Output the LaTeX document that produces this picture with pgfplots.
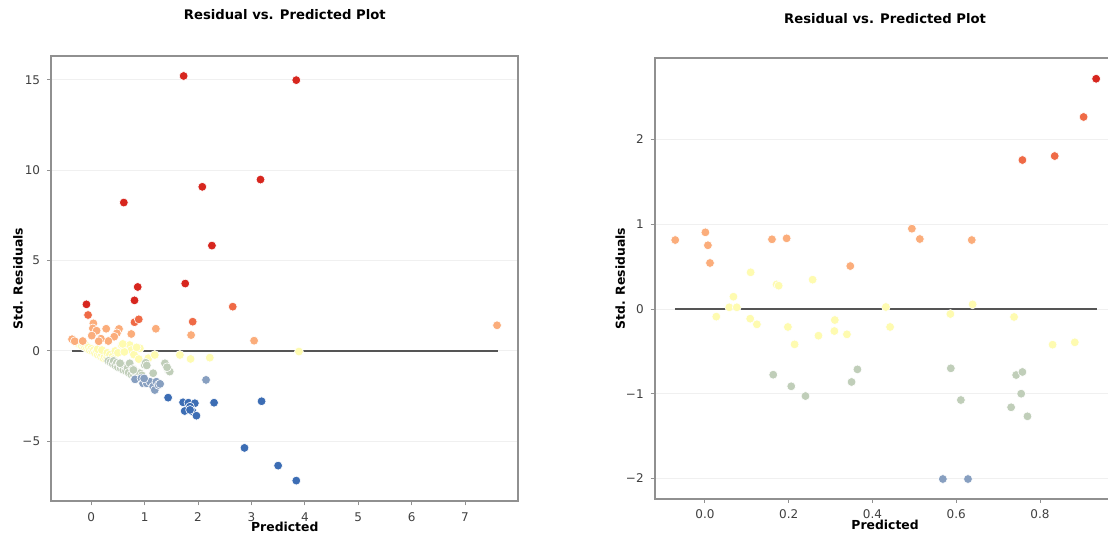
\documentclass[border=0pt]{standalone}
\usepackage{fontspec}
\setmainfont{DejaVu Sans}
\usepackage{pgfplots}
\pgfplotsset{compat=1.18}

\definecolor{rdark}{HTML}{D7261E}
\definecolor{rorange}{HTML}{EF6A46}
\definecolor{rlight}{HTML}{FBAD7B}
\definecolor{ryellow}{HTML}{FEFBB0}
\definecolor{rgreen}{HTML}{C0CEB9}
\definecolor{rsteel}{HTML}{879FC0}
\definecolor{rblue}{HTML}{3C6DB4}
\definecolor{spine}{HTML}{909090}
\definecolor{zeroline}{HTML}{555555}

\newcommand{\labfont}{\fontsize{6.2}{7}\selectfont\bfseries}
\newcommand{\titfont}{\fontsize{6.6}{8}\selectfont\bfseries}

\pgfplotsset{
  resid/.style={
    scale only axis,
    anchor=south west,
    axis line style={spine, line width=1pt},
    tick pos=left,
    tick align=outside,
    major tick length=2pt,
    every tick/.style={spine, line width=0.5pt},
    ymajorgrids,
    major grid style={black!6, line width=0.5pt},
    tick label style={font=\fontsize{6}{7}\selectfont, text=black!75},
    /pgf/number format/assume math mode=true,
    ylabel={Std. Residuals},
    xlabel={Predicted},
    title={Residual vs. Predicted Plot},
  },
  dot/.style={only marks, mark=*, mark size=2.2pt,
    mark options={draw=white, line width=0.3pt, fill=#1}},
}

\begin{document}
\begin{tikzpicture}

% ---------------- left panel ----------------
\begin{axis}[resid,
  at={(25.6pt,17.8pt)},
  width=233.6pt, height=222.75pt,
  xmin=-0.75, xmax=8.0,
  ymin=-8.32, ymax=16.32,
  xtick={0,1,2,3,4,5,6,7},
  ytick={-5,0,5,10,15},
  yticklabels={−5,0,5,10,15},
  every axis y label/.style={at={(axis description cs:-0.071,0.5)}, rotate=90, anchor=center, font=\labfont},
  every axis x label/.style={at={(axis description cs:0.5,-0.057)}, anchor=center, font=\labfont},
  every axis title/.style={at={(axis description cs:0.5,1.092)}, anchor=center, font=\titfont},
]
  \addplot[dot=ryellow] coordinates {
    (-0.28,0.48) (-0.25,0.42) (-0.22,0.38) (-0.20,0.45) (-0.18,0.30)
    (-0.15,0.35) (-0.12,0.22) (-0.10,0.30) (-0.08,0.15) (-0.05,0.20)
    (-0.03,0.05) (0.00,0.12) (0.02,0.00) (0.05,0.05) (0.07,-0.10)
    (0.10,0.00) (0.12,-0.20) (0.15,-0.12) (0.18,-0.30) (0.20,-0.20)
    (0.23,-0.40) (0.25,-0.30) (0.28,-0.45) (0.30,-0.35) (0.12,0.10)
    (0.20,0.05) (0.30,-0.10) (0.35,-0.20) (0.40,-0.30) (0.42,-0.45)
    (0.45,0.00) (0.50,-0.10) (0.57,0.33) (0.72,0.33) (0.91,0.15)
    (0.75,0.05) (0.62,-0.05) (0.80,-0.20) (0.89,-0.45) (1.07,-0.40)
    (1.19,-0.22) (1.66,-0.22) (1.86,-0.44) (2.22,-0.37) (3.89,-0.03)
    (0.59,0.39) (0.85,0.20)
  };
  \addplot[dot=rgreen] coordinates {
    (0.32,-0.55) (0.36,-0.62) (0.40,-0.70) (0.42,-0.55) (0.45,-0.80)
    (0.48,-0.65) (0.50,-0.90) (0.53,-0.70) (0.55,-0.95) (0.58,-0.80)
    (0.60,-1.05) (0.63,-0.85) (0.65,-1.10) (0.68,-0.95) (0.70,-1.20)
    (0.72,-0.68) (0.75,-1.30) (0.78,-1.00) (0.80,-1.35) (0.82,-1.15)
    (0.85,-1.40) (0.88,-1.20) (0.91,-1.23) (0.95,-1.35) (1.00,-0.77)
    (1.02,-0.65) (1.04,-0.80) (1.16,-1.23) (1.38,-0.68) (1.44,-1.05)
    (1.47,-1.14) (1.42,-0.90) (0.54,-0.68) (0.79,-1.05)
  };
  \addplot[dot=rsteel] coordinates {
    (0.82,-1.57) (0.94,-1.51) (0.97,-1.79) (1.04,-1.79) (1.10,-1.70)
    (1.16,-1.97) (1.19,-2.16) (1.22,-1.70) (1.26,-1.88) (1.29,-1.82)
    (0.99,-1.52) (2.15,-1.60)
  };
  \addplot[dot=rblue] coordinates {
    (1.44,-2.58) (1.72,-2.84) (1.82,-2.86) (1.94,-2.89) (1.85,-3.08)
    (1.75,-3.32) (1.90,-3.36) (1.97,-3.58) (1.85,-3.26) (2.30,-2.86)
    (3.19,-2.78) (2.87,-5.36) (3.50,-6.34) (3.84,-7.17)
  };
  \addplot[dot=rlight] coordinates {
    (7.60,1.42) (3.05,0.57) (1.87,0.88) (1.21,1.23) (0.75,0.94)
    (0.52,1.22) (0.48,0.98) (0.43,0.79) (0.28,1.23) (0.32,0.55)
    (0.04,1.53) (0.03,1.25) (0.10,1.12) (0.01,0.85) (0.18,0.68)
    (0.14,0.54) (-0.36,0.65) (-0.31,0.54) (-0.16,0.55)
  };
  \addplot[dot=rorange] coordinates {
    (-0.06,1.99) (0.81,1.59) (0.89,1.75) (1.90,1.62) (2.65,2.45)
  };
  \addplot[dot=rdark] coordinates {
    (1.73,15.21) (3.84,14.98) (0.61,8.21) (2.08,9.08) (3.17,9.48)
    (2.26,5.83) (1.76,3.73) (0.87,3.54) (0.81,2.80) (-0.09,2.58)
  };
  \addplot[zeroline, line width=1.2pt] coordinates {(-0.36,0) (7.62,0)};
\end{axis}

% ---------------- right panel ----------------
\begin{axis}[resid,
  at={(327.35pt,19.25pt)},
  width=230.35pt, height=220pt,
  xmin=-0.12, xmax=0.98,
  ymin=-2.236, ymax=2.956,
  xtick={0,0.2,0.4,0.6,0.8},
  xticklabels={0.0,0.2,0.4,0.6,0.8},
  ytick={-2,-1,0,1,2},
  yticklabels={−2,−1,0,1,2},
  every axis y label/.style={at={(axis description cs:-0.075,0.5)}, rotate=90, anchor=center, font=\labfont},
  every axis x label/.style={at={(axis description cs:0.5,-0.060)}, anchor=center, font=\labfont},
  every axis title/.style={at={(axis description cs:0.5,1.09)}, anchor=center, font=\titfont},
]
  \addplot[dot=rlight] coordinates {
    (-0.071,0.814) (0.001,0.905) (0.007,0.752) (0.012,0.543) (0.160,0.822)
    (0.195,0.834) (0.347,0.507) (0.494,0.948) (0.513,0.826) (0.637,0.814)
  };
  \addplot[dot=ryellow] coordinates {
    (0.109,0.433) (0.171,0.290) (0.176,0.275) (0.257,0.346) (0.068,0.145)
    (0.058,0.020) (0.076,0.020) (0.027,-0.090) (0.108,-0.114) (0.124,-0.181)
    (0.198,-0.212) (0.214,-0.417) (0.271,-0.315) (0.310,-0.130) (0.309,-0.260)
    (0.339,-0.299) (0.432,0.024) (0.442,-0.212) (0.586,-0.059) (0.639,0.055)
    (0.738,-0.094) (0.830,-0.421) (0.883,-0.393)
  };
  \addplot[dot=rgreen] coordinates {
    (0.163,-0.775) (0.206,-0.912) (0.240,-1.027) (0.350,-0.861) (0.364,-0.712)
    (0.587,-0.700) (0.611,-1.074) (0.731,-1.160) (0.743,-0.779) (0.758,-0.743)
    (0.755,-0.999) (0.770,-1.266)
  };
  \addplot[dot=rsteel] coordinates {(0.568,-2.006) (0.628,-2.006)};
  \addplot[dot=rorange] coordinates {
    (0.904,2.266) (0.835,1.805) (0.758,1.758)
  };
  \addplot[dot=rdark] coordinates {(0.934,2.717)};
  \addplot[zeroline, line width=1.2pt] coordinates {(-0.072,0) (0.936,0)};
\end{axis}

\pgfresetboundingbox
\useasboundingbox (0,0) rectangle (554pt,268.5pt);
\end{tikzpicture}
\end{document}
